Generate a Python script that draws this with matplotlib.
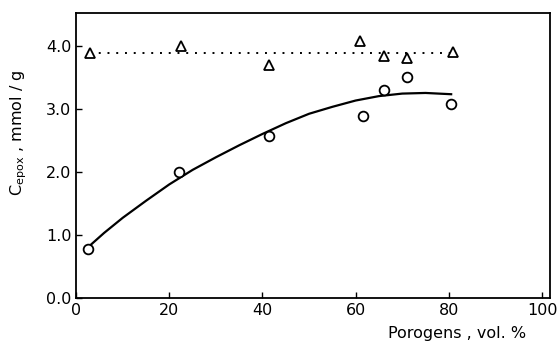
import numpy as np
import matplotlib.pyplot as plt

x_circ = [2.5, 22, 41.5, 61.5, 66, 71, 80.5]
y_circ = [0.78, 1.99, 2.57, 2.88, 3.29, 3.50, 3.07]

x_tri = [3, 22.5, 41.5, 61, 66, 71, 81]
y_tri = [3.88, 3.99, 3.70, 4.07, 3.84, 3.81, 3.90]

# trend curve through the circles (traced)
x_fit = [2.5, 6, 10, 15, 20, 25, 30, 35, 40, 45, 50, 55, 60, 65, 70, 75, 80.5]
y_fit = [0.80, 1.03, 1.27, 1.54, 1.80, 2.03, 2.23, 2.42, 2.60, 2.77,
         2.92, 3.03, 3.13, 3.20, 3.24, 3.25, 3.23]

# mean level of the triangles
x_mean = [3, 81]
y_mean = [3.89, 3.89]

xticks = [0, 20, 40, 60, 80, 100]
yticks = [0.0, 1.0, 2.0, 3.0, 4.0]

fig = plt.figure(figsize=(5.6, 3.58), dpi=100)
ax = fig.add_axes([0.136, 0.168, 0.846, 0.796])

ax.plot(x_fit, y_fit, color='black', lw=1.6)
ax.plot(x_mean, y_mean, color='black', lw=1.4, ls=(0, (1, 3.5)))
ax.plot(x_circ, y_circ, 'o', ms=7, mfc='white', mec='black', mew=1.3, ls='none')
ax.plot(x_tri, y_tri, '^', ms=7, mfc='white', mec='black', mew=1.3, ls='none')

ax.set_xlim(0, 101.7)
ax.set_ylim(0, 4.52)
ax.set_xticks(xticks)
ax.set_yticks(yticks)
ax.set_yticklabels(['%.1f' % v for v in yticks])
ax.tick_params(direction='in', length=4, width=1, labelsize=11.5, top=False, right=False)
for s in ax.spines.values():
    s.set_linewidth(1.3)

ax.set_xlabel('Porogens , vol. %', fontsize=11.5, ha='right')
ax.xaxis.set_label_coords(0.95, -0.1)
ax.set_ylabel('C$_{\\mathregular{epox}}$ , mmol / g', fontsize=11.5)
ax.yaxis.set_label_coords(-0.1, 0.58)

fig.savefig('out.png', dpi=100)
